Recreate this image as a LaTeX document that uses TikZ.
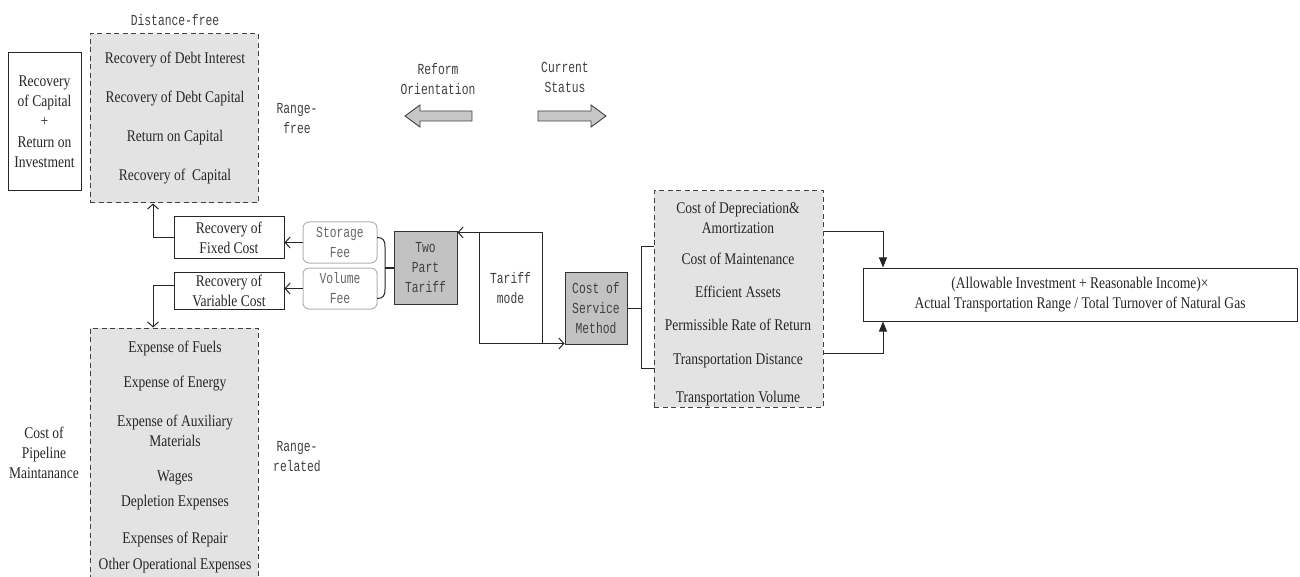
\documentclass[tikz,border=0pt]{standalone}
\usepackage{fontspec}
\setmainfont{Liberation Serif}[FakeStretch=0.83]
\newfontfamily\monof{Liberation Mono}[FakeStretch=0.74]
\usetikzlibrary{arrows.meta}
\begin{document}
\begin{tikzpicture}[x=1pt,y=-1pt,line width=1pt,
  txt/.style={inner sep=0pt,align=center,text=black!85,font=\fontsize{16.3}{20.3}\selectfont},
  mono/.style={inner sep=0pt,align=center,text=black!75,font=\monof\fontsize{15.3}{20}\selectfont},
  box/.style={draw=black!85,fill=white,inner sep=0pt},
  dbox/.style={draw=black!75,dash pattern=on 5pt off 3.5pt,fill=black!11,inner sep=0pt},
  gbox/.style={draw=black!80,fill=black!24,inner sep=0pt},
  fbox/.style={draw=black!30,rounded corners=6pt,inner sep=0pt},
  conn/.style={draw=black!85},
  barb/.style={conn,-{Straight Barb[length=5pt,width=11pt]}},
  tri/.style={conn,-{Triangle[length=10pt,width=8pt]}},
  blk/.style={draw=black!75,fill=black!22,line width=0.9pt}]
\useasboundingbox (0,0) rectangle (1300,577);

% helper coordinates
\coordinate (cx) at (153,0);
\coordinate (bt) at (641,247);
\coordinate (bb) at (641,368);
\coordinate (fx) at (883,0);
\coordinate (ra) at (0,232);
\coordinate (rb) at (0,353);
\coordinate (brace) at (385,268);

% top-left group
\node[box,txt,minimum width=73,minimum height=138] (roi) at (44.5,121.5) {Recovery\\of Capital\\+\\Return on\\Investment};
\node[dbox,minimum width=168,minimum height=169] (dtop) at (174,118.5) {};
\node[txt] (t1) at (175,60) {Recovery of Debt Interest};
\node[txt] (t2) at (175,99) {Recovery of Debt Capital};
\node[txt] (t3) at (175,138) {Return on Capital};
\node[txt] (t4) at (175,177) {Recovery of~ Capital};
\node[mono] (distfree) at (175,20) {Distance-free};
\node[mono] (rfree) at (297,119) {Range-\\free};

% block arrows
\node[mono] (reform) at (438,79) {Reform\\Orientation};
\node[mono] (current) at (565,77) {Current\\Status};
\draw[blk] (405,116) -- (420,105) -- (420,111) -- (472,111) -- (472,121) -- (420,121) -- (420,127) -- cycle;
\draw[blk] (606,116) -- (591,105) -- (591,111) -- (538,111) -- (538,121) -- (591,121) -- (591,127) -- cycle;

% middle row
\node[box,txt,minimum width=110,minimum height=42] (fixed) at (229,238) {Recovery of\\Fixed Cost};
\node[box,txt,minimum width=110,minimum height=37] (variable) at (229,291) {Recovery of\\Variable Cost};
\node[fbox,mono,text=black!60,minimum width=74,minimum height=41] (storage) at (340,242.5) {Storage\\Fee};
\node[fbox,mono,text=black!60,minimum width=74,minimum height=41] (volume) at (340,288.5) {Volume\\Fee};
\node[gbox,mono,minimum width=63,minimum height=72] (tpt) at (425.5,268) {Two\\Part\\Tariff};
\node[box,mono,minimum width=63,minimum height=110] (tm) at (510.5,288) {Tariff\\mode};
\node[gbox,mono,minimum width=62,minimum height=72] (cos) at (596,308) {Cost of\\Service\\Method};

% right dashed group
\node[dbox,minimum width=169,minimum height=216] (dright) at (738.5,299) {};
\node[txt] (r1) at (738,218) {Cost of Depreciation\&\\Amortization};
\node[txt] (r2) at (738,259) {Cost of Maintenance};
\node[txt] (r3) at (738,292) {Efficient Assets};
\node[txt] (r4) at (738,325) {Permissible Rate of Return};
\node[txt] (r5) at (738,361) {Transportation Distance};
\node[txt] (r6) at (738,399) {Transportation Volume};

\node[box,txt,minimum width=434,minimum height=53] (formula) at (1080,294.5) {(Allowable Investment + Reasonable Income)×\\Actual Transportation Range / Total Turnover of Natural Gas};

% bottom-left group
\node[dbox,minimum width=168,minimum height=250] (dbot) at (174,453) {};
\node[txt] (b1) at (175,348) {Expense of Fuels};
\node[txt] (b2) at (175,384) {Expense of Energy};
\node[txt] (b3) at (175,431) {Expense of Auxiliary\\Materials};
\node[txt] (b4) at (175,478) {Wages};
\node[txt] (b5) at (175,503) {Depletion Expenses};
\node[txt] (b6) at (175,539) {Expenses of Repair};
\node[txt] (b7) at (175,566) {Other Operational Expenses};
\node[txt] (pipe) at (44,453) {Cost of\\Pipeline\\Maintanance};
\node[mono] (rrel) at (297,457) {Range-\\related};

% connectors
\draw[barb] (fixed.west) -| (cx |- dtop.south);
\draw[barb] (variable.west |- 0,285) -| (cx |- dbot.north);
\draw[barb] (storage.west) -- (fixed.east |- storage.west);
\draw[barb] (volume.west) -- (variable.east |- volume.west);
\draw[conn] (377,237.5) .. controls (383,237.5) and (385,240) .. (385,247) -- (385,289) .. controls (385,296) and (383,298.5) .. (377,298.5);
\draw[conn,line width=2pt] (brace) -- (tpt.west);
\draw[barb] (tm.north west) -- (tpt.north east |- tm.north west);
\draw[barb] (tm.south east) -- (cos.west |- tm.south east);
\draw[conn] (cos.east) -- (bt |- cos.east);
\draw[conn] (dright.west |- bt) -- (bt) -- (bb) -- (dright.west |- bb);
\draw[tri] (dright.east |- ra) -| (fx |- formula.north);
\draw[tri] (dright.east |- rb) -| (fx |- formula.south);
\end{tikzpicture}
\end{document}
